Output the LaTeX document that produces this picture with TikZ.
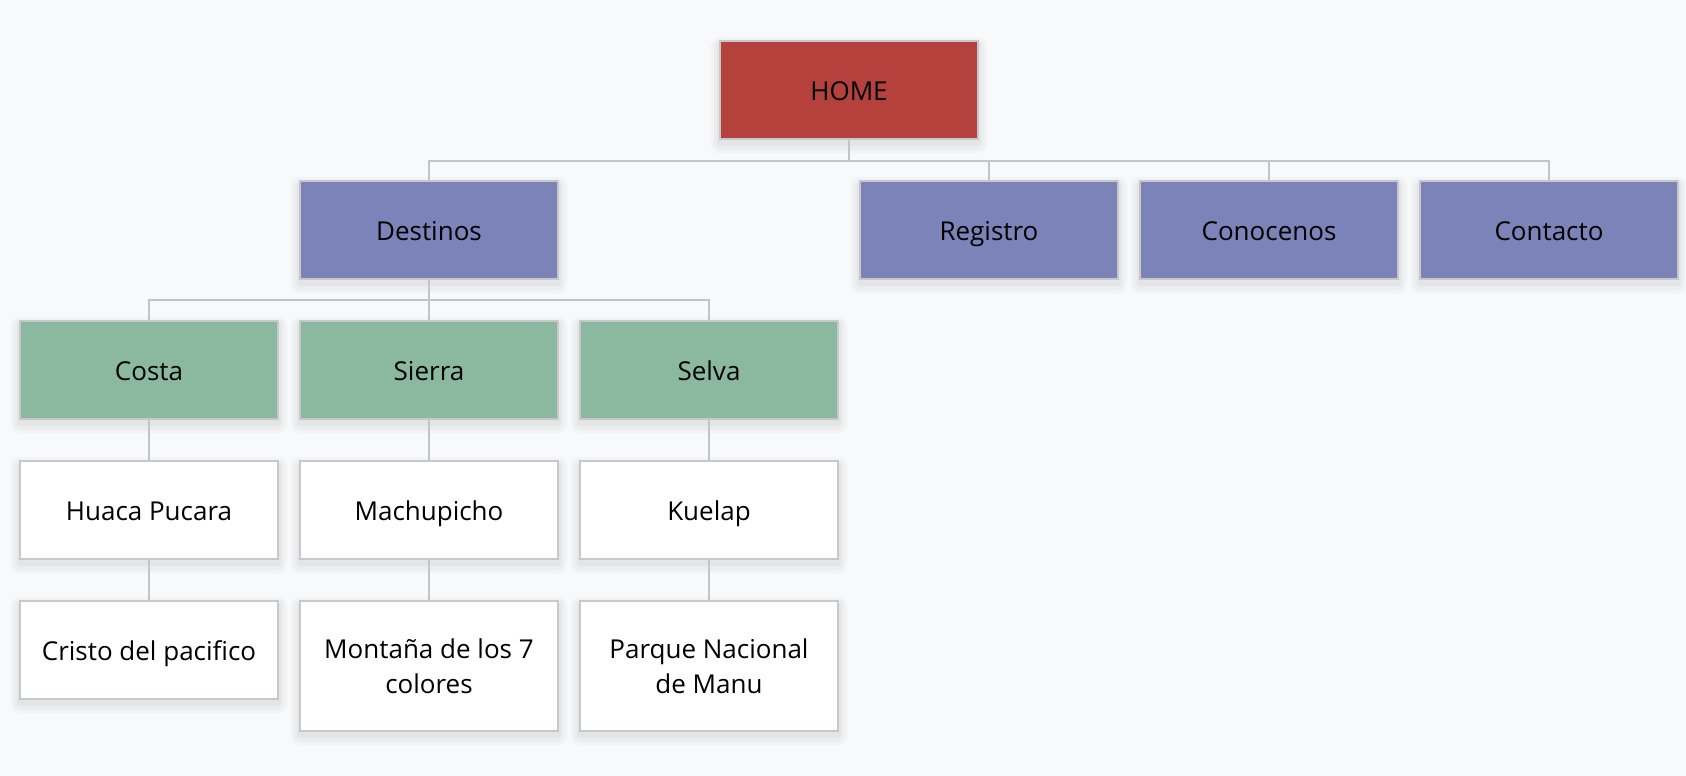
\documentclass[tikz,border=0pt]{standalone}
\usepackage{fontspec}
\setmainfont{Open Sans}
\definecolor{bg}{HTML}{F8F9FB}
\definecolor{bordergray}{HTML}{C8C8CA}
\definecolor{linegray}{HTML}{C4C4C6}
\definecolor{homered}{HTML}{B5413D}
\definecolor{navpurple}{HTML}{7B83B8}
\definecolor{regiongreen}{HTML}{8AB9A0}
\begin{document}
\begin{tikzpicture}[x=0.5pt,y=-0.5pt,
  softshadow/.style={
    preaction={draw=black, draw opacity=0.025, line width=9pt, line join=round, transform canvas={yshift=-2.5pt}},
    preaction={draw=black, draw opacity=0.025, line width=6pt, line join=round, transform canvas={yshift=-2.5pt}},
    preaction={draw=black, draw opacity=0.03, line width=3pt, line join=round, transform canvas={yshift=-2pt}}},
  box/.style={draw=bordergray, line width=1pt, minimum width=129pt, minimum height=49pt,
    inner sep=0pt, align=center, text=black, font=\fontsize{13}{17.5}\selectfont, softshadow},
  single/.style={text height=10.5pt, text depth=0pt},
  homebox/.style={box, single, fill=homered},
  navbox/.style={box, single, fill=navpurple},
  regbox/.style={box, single, fill=regiongreen},
  placebox/.style={box, single, fill=white},
  tallbox/.style={box, fill=white, minimum height=65pt},
  conn/.style={draw=linegray, line width=1pt}]
\fill[bg] (0,0) rectangle (1686,776);
\useasboundingbox (0,0) rectangle (1686,776);

\node[homebox] (home) at (849,90) {HOME};
\node[navbox] (destinos) at (429,230) {Destinos};
\node[navbox] (registro) at (989,230) {Registro};
\node[navbox] (conocenos) at (1269,230) {Conocenos};
\node[navbox] (contacto) at (1549,230) {Contacto};
\node[regbox] (costa) at (149,370) {Costa};
\node[regbox] (sierra) at (429,370) {Sierra};
\node[regbox] (selva) at (709,370) {Selva};
\node[placebox] (huaca) at (149,510) {Huaca Pucara};
\node[placebox] (machu) at (429,510) {Machupicho};
\node[placebox] (kuelap) at (709,510) {Kuelap};
\node[placebox] (cristo) at (149,650) {Cristo del pacifico};
\node[tallbox] (montana) at (429,666) {Montaña de los 7\\colores};
\node[tallbox] (parque) at (709,666) {Parque Nacional\\de Manu};

\coordinate (bus1) at (849,161);
\coordinate (bus2) at (429,300);
\draw[conn] (home.south) -- (bus1) -| (destinos.north);
\draw[conn] (bus1) -| (registro.north);
\draw[conn] (bus1) -| (conocenos.north);
\draw[conn] (bus1) -| (contacto.north);
\draw[conn] (destinos.south) -- (bus2) -| (costa.north);
\draw[conn] (bus2) -- (sierra.north);
\draw[conn] (bus2) -| (selva.north);
\draw[conn] (costa) -- (huaca);
\draw[conn] (sierra) -- (machu);
\draw[conn] (selva) -- (kuelap);
\draw[conn] (huaca) -- (cristo);
\draw[conn] (machu) -- (montana);
\draw[conn] (kuelap) -- (parque);
\end{tikzpicture}
\end{document}
